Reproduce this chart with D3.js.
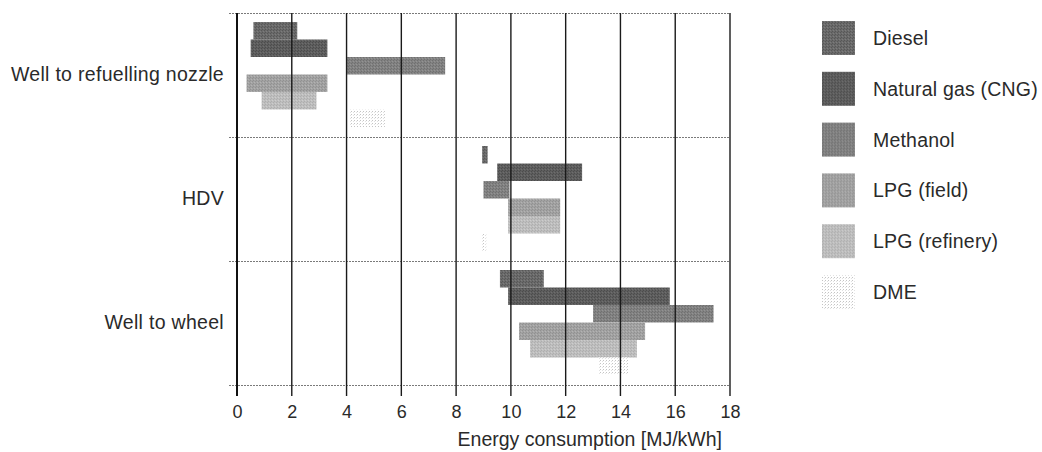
<!DOCTYPE html>
<html>
<head>
<meta charset="utf-8">
<script src="https://cdn.jsdelivr.net/npm/d3@7"></script>
<style>
  html, body { margin: 0; padding: 0; background: #fff; }
  svg { display: block; font-family: "Liberation Sans", Arial, Helvetica, sans-serif; }
</style>
</head>
<body>
<svg id="chart" width="1042" height="452"></svg>
<script>
// ---- data ----
const categories = ["Well to refuelling nozzle", "HDV", "Well to wheel"];
const seriesNames = ["Diesel", "Natural gas (CNG)", "Methanol", "LPG (field)", "LPG (refinery)", "DME"];
// [low, high] per category, in the order of `categories`
const diesel      = [[0.6, 2.2], [8.95, 9.15], [9.6, 11.2]];
const cng         = [[0.5, 3.3], [9.5, 12.6], [9.9, 15.8]];
const methanol    = [[4.0, 7.6], [9.0, 9.95], [13.0, 17.4]];
const lpgField    = [[0.35, 3.3], [9.9, 11.8], [10.3, 14.9]];
const lpgRefinery = [[0.9, 2.9], [9.9, 11.8], [10.7, 14.6]];
const dme         = [[4.1, 5.4], [8.95, 9.1], [13.2, 14.3]];
const xTicks = [0, 2, 4, 6, 8, 10, 12, 14, 16, 18];
const xLabel = "Energy consumption [MJ/kWh]";

const seriesValues = [diesel, cng, methanol, lpgField, lpgRefinery, dme];
const seriesBase  = ["#6a6a6a", "#5e5e5e", "#828282", "#a2a2a2", "#bebebe", "#ffffff"];
const seriesDot   = ["#575757", "#4c4c4c", "#707070", "#919191", "#aeaeae", "#c4c4c4"];
const seriesLight = ["#7c7c7c", "#6e6e6e", "#939393", "#b3b3b3", "#cdcdcd", "#e2e2e2"];

// ---- layout ----
const svg = d3.select("#chart");
const plot = { left: 237, right: 730, top: 13, bottom: 385 };

const x = d3.scaleLinear().domain([0, 18]).range([plot.left, plot.right]);
const y = d3.scaleBand().domain(categories).range([plot.top, plot.bottom]).padding(0);
const yInner = d3.scaleBand().domain(seriesNames).range([9, y.bandwidth() - 10]).padding(0);

// ---- stipple patterns ----
const defs = svg.append("defs");
seriesNames.forEach((s, i) => {
  const p = defs.append("pattern")
    .attr("id", "pat" + i).attr("patternUnits", "userSpaceOnUse")
    .attr("width", 3).attr("height", 3);
  p.append("rect").attr("width", 3).attr("height", 3).attr("fill", seriesBase[i]);
  p.append("rect").attr("x", 0).attr("y", 0).attr("width", 1).attr("height", 1).attr("fill", seriesDot[i]);
  p.append("rect").attr("x", 2).attr("y", 1).attr("width", 1).attr("height", 1).attr("fill", seriesLight[i]);
  if (i !== 5) {
    p.append("rect").attr("x", 1).attr("y", 2).attr("width", 1).attr("height", 1).attr("fill", seriesDot[i]);
  }
});

// ---- horizontal band lines (dotted gray) ----
const boundaries = categories.map(c => y(c)).concat([plot.bottom]);
svg.append("g").selectAll("line").data(boundaries).join("line")
  .attr("x1", plot.left - 8).attr("x2", plot.right)
  .attr("y1", d => d + 0.5).attr("y2", d => d + 0.5)
  .attr("stroke", "#7a7a7a").attr("stroke-width", 1.2)
  .attr("stroke-dasharray", "2,1");

// ---- bars ----
const barData = [];
seriesValues.forEach((vals, si) => {
  vals.forEach((v, ci) => {
    barData.push({ series: seriesNames[si], si, cat: categories[ci], lo: v[0], hi: v[1] });
  });
});
svg.append("g").selectAll("rect").data(barData).join("rect")
  .attr("x", d => x(d.lo))
  .attr("width", d => Math.max(1, x(d.hi) - x(d.lo)))
  .attr("y", d => y(d.cat) + yInner(d.series))
  .attr("height", yInner.bandwidth())
  .attr("fill", d => "url(#pat" + d.si + ")");

// ---- vertical grid lines ----
svg.append("g").selectAll("line").data(xTicks.slice(1)).join("line")
  .attr("x1", d => x(d)).attr("x2", d => x(d))
  .attr("y1", plot.top).attr("y2", plot.bottom + 11)
  .attr("stroke", "#1a1a1a").attr("stroke-width", 1.4);
// left axis line
svg.append("line")
  .attr("x1", x(0)).attr("x2", x(0))
  .attr("y1", plot.top).attr("y2", plot.bottom + 11)
  .attr("stroke", "#111").attr("stroke-width", 2);

// ---- x axis labels ----
const xAxis = d3.axisBottom(x).tickValues(xTicks).tickSize(0).tickPadding(20).tickFormat(d3.format("d"));
const gx = svg.append("g").attr("transform", `translate(0,${plot.bottom})`).call(xAxis);
gx.select(".domain").remove();
gx.selectAll("text").attr("font-size", 18).attr("fill", "#2a2a2a")
  .attr("font-family", "'Liberation Sans', Arial, sans-serif");

svg.append("text")
  .attr("x", 722).attr("y", 446)
  .attr("text-anchor", "end")
  .attr("font-size", 19.5).attr("fill", "#2a2a2a")
  .text(xLabel);

// ---- y axis labels ----
const yAxis = d3.axisLeft(y).tickSize(0).tickPadding(13);
const gy = svg.append("g").attr("transform", `translate(${plot.left},0)`).call(yAxis);
gy.select(".domain").remove();
gy.selectAll("text").attr("font-size", 19.5).attr("fill", "#2a2a2a")
  .attr("font-family", "'Liberation Sans', Arial, sans-serif")
  .attr("letter-spacing", 0.3);

// ---- legend ----
const legend = svg.append("g");
const leg = legend.selectAll("g").data(seriesNames).join("g")
  .attr("transform", (d, i) => `translate(822,${38 + i * 50.8})`);
leg.append("rect")
  .attr("x", 0).attr("y", -17).attr("width", 33).attr("height", 34)
  .attr("fill", (d, i) => "url(#pat" + i + ")");
leg.append("text")
  .attr("x", 51).attr("y", 0).attr("dy", "0.36em")
  .attr("font-size", 19.5).attr("fill", "#2a2a2a")
  .attr("letter-spacing", 0.2)
  .text(d => d);
</script>
</body>
</html>
